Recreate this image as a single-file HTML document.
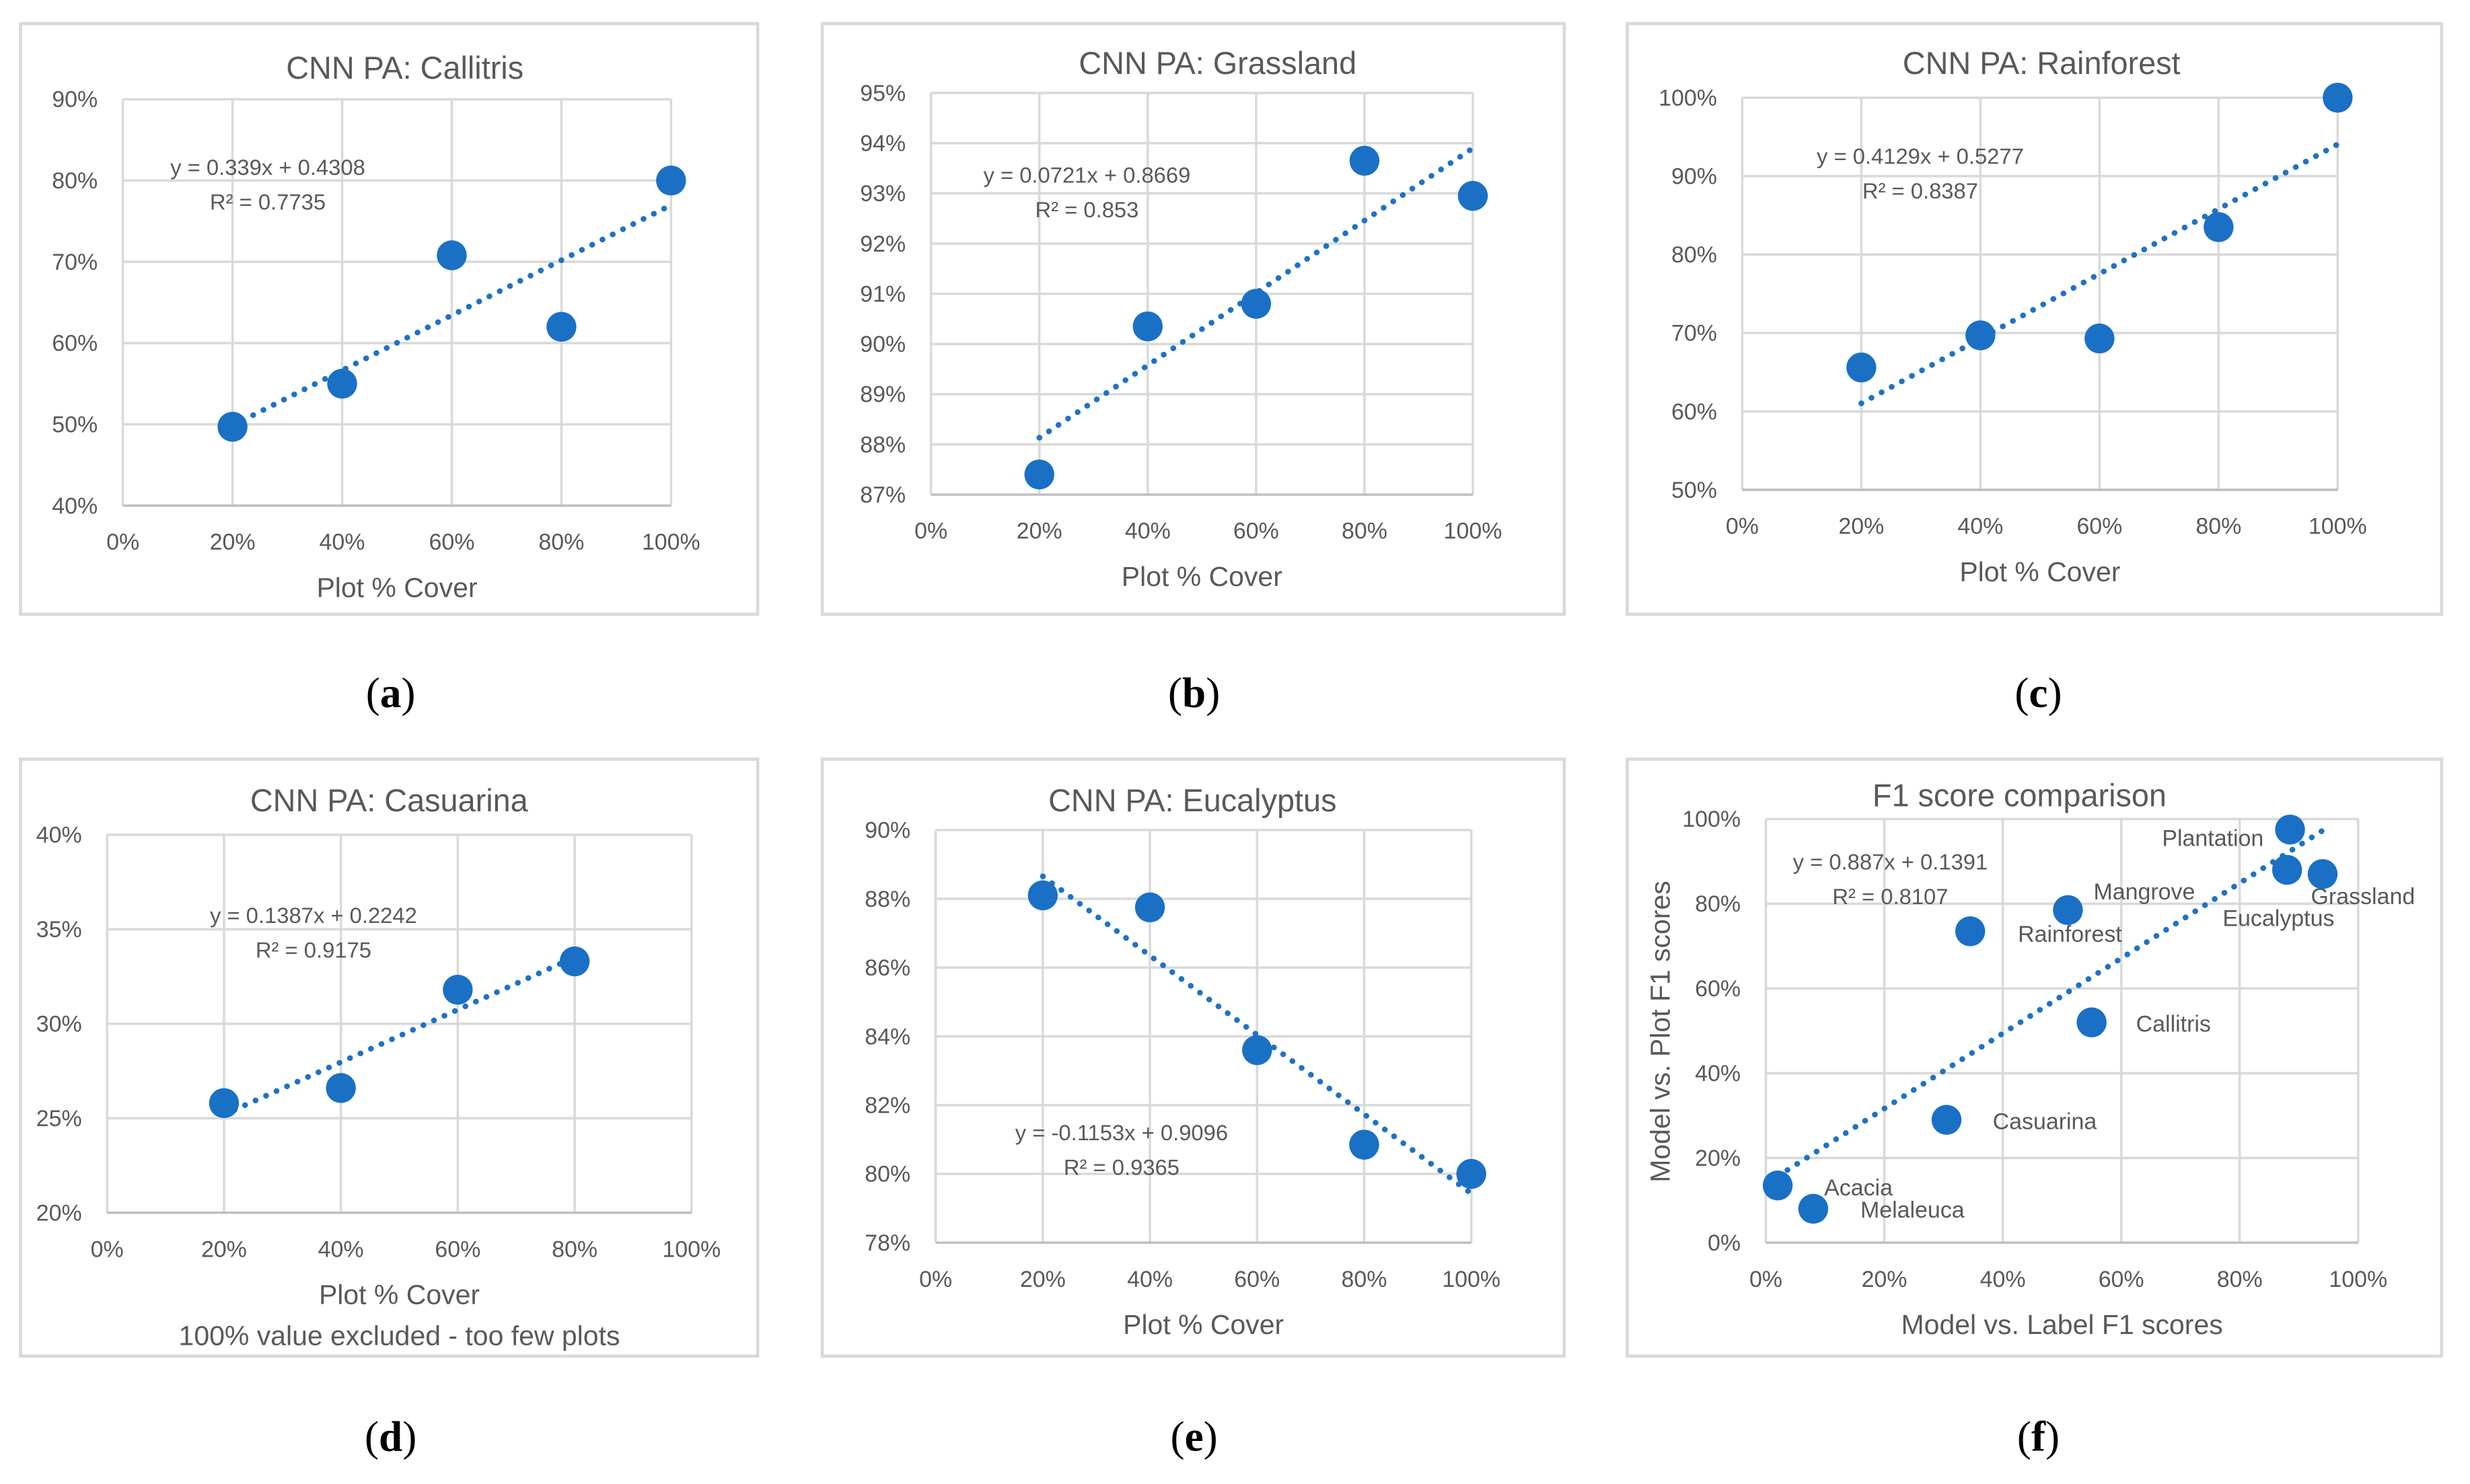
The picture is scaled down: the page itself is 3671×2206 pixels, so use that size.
<!DOCTYPE html>
<html><head><meta charset="utf-8"><style>
html,body{margin:0;padding:0;background:#fff;}
svg{display:block;}
text{font-family:"Liberation Sans",sans-serif;fill:#595959;}
</style></head><body>
<svg id="fig" width="3671" height="2206" viewBox="0 0 1568 942.2" xmlns="http://www.w3.org/2000/svg"></svg>
<script>
// ---- data ----
const xCats = [0.2, 0.4, 0.6, 0.8, 1.0];
const callitrisVals = [0.497, 0.550, 0.708, 0.620, 0.800];
const grasslandVals = [0.874, 0.9035, 0.908, 0.9365, 0.9295];
const rainforestVals = [0.656, 0.697, 0.693, 0.835, 1.000];
const casuarinaX = [0.2, 0.4, 0.6, 0.8];
const casuarinaVals = [0.258, 0.266, 0.318, 0.333];
const eucalyptusVals = [0.881, 0.8775, 0.836, 0.8085, 0.800];
const f1Names = ["Acacia","Melaleuca","Casuarina","Rainforest","Mangrove","Callitris","Eucalyptus","Plantation","Grassland"];
const f1LabelX = [0.02, 0.08, 0.305, 0.345, 0.51, 0.55, 0.88, 0.885, 0.94];
const f1PlotY = [0.135, 0.08, 0.29, 0.735, 0.785, 0.52, 0.88, 0.975, 0.87];
const xTickLabels = ["0%","20%","40%","60%","80%","100%"];
const trendA = [0.339, 0.4308], trendB = [0.0721, 0.8669], trendC = [0.4129, 0.5277];
const trendD = [0.1387, 0.2242], trendE = [-0.1153, 0.9096], trendF = [0.887, 0.1391];

const NS = "http://www.w3.org/2000/svg";
const svg = document.getElementById('fig');
function mk(tag, attrs, parent){const e=document.createElementNS(NS,tag);for(const k in attrs)e.setAttribute(k,attrs[k]);(parent||svg).appendChild(e);return e;}
function txt(s, x, y, size, anchor, parent, name){
  const t = mk('text',{x:x,y:y,'font-size':size,'text-anchor':anchor||'middle'},parent);
  t.textContent = s;
  
  
  return t;
}
function pct(v, dec){return (v*100).toFixed(dec||0)+'%';}

function chart(cfg){
  const g = mk('g',{});
  
  
  const fr = mk('rect',{x:cfg.fx,y:cfg.fy,width:cfg.fw,height:cfg.fh,fill:'#fff',stroke:'#d9d9d9','stroke-width':2},g);
  
  
  const sx = v => cfg.x0 + (v - cfg.xmin)/(cfg.xmax-cfg.xmin)*(cfg.x1-cfg.x0);
  const sy = v => cfg.y0 - (v - cfg.ymin)/(cfg.ymax-cfg.ymin)*(cfg.y0-cfg.y1);
  for(let i=0;i<cfg.yTicks.length;i++){
    const v=cfg.yTicks[i];
    const l=mk('line',{x1:cfg.x0,x2:cfg.x1,y1:sy(v),y2:sy(v),stroke:'#d9d9d9','stroke-width':1.5},g);
    
    
    txt(pct(v), cfg.x0-16, sy(v)+5, 14.5, 'end', g, 'y-tick-label');
  }
  for(let i=0;i<xTickLabels.length;i++){
    const v=i*0.2;
    const l=mk('line',{x1:sx(v),x2:sx(v),y1:cfg.y0,y2:cfg.y1,stroke:'#d9d9d9','stroke-width':1.5},g);
    
    
    txt(xTickLabels[i], sx(v), cfg.y0+28, 14.5, 'middle', g, 'x-tick-label');
  }
  const ax=mk('line',{x1:cfg.x0,x2:cfg.x1,y1:cfg.y0,y2:cfg.y0,stroke:'#bfbfbf','stroke-width':1.5},g);
  
  
  txt(cfg.title, cfg.tx, cfg.ty, 20, 'middle', g, 'chart-title');
  txt(cfg.xTitle, (cfg.x0+cfg.x1)/2, cfg.y0+58, 17.5, 'middle', g, 'x-axis-title');
  if(cfg.note) txt(cfg.note, (cfg.x0+cfg.x1)/2, cfg.y0+84, 17.5, 'middle', g, 'chart-note');
  if(cfg.yTitle){
    const t=txt(cfg.yTitle, 0, 0, 17.5, 'middle', g, 'y-axis-title');
    t.setAttribute('transform','translate('+cfg.ytx+','+cfg.yty+') rotate(-90)');
  }
  const xs=cfg.xs, ys=cfg.ys;
  const xa=Math.min(...xs), xb=Math.max(...xs);
  const p1=[sx(xa),sy(cfg.trend[0]*xa+cfg.trend[1])], p2=[sx(xb),sy(cfg.trend[0]*xb+cfg.trend[1])];
  const tl=mk('line',{x1:p1[0],y1:p1[1],x2:p2[0],y2:p2[1],stroke:'#1f72c4','stroke-width':3.6,'stroke-linecap':'round','stroke-dasharray':'0.1 7.2'},g);
  
  
  for(let i=0;i<xs.length;i++){
    const c=mk('circle',{cx:sx(xs[i]),cy:sy(ys[i]),r:9.5,fill:'#1a70c5'},g);
    
    
    if(cfg.labels){
      const lp=cfg.labelPos[i];
      txt(cfg.labels[i], lp[0], lp[1], 14.5, lp[2], g, 'point-label');
    }
  }
  txt(cfg.eq1, cfg.ex, cfg.ey, 14, 'middle', g, 'trend-equation');
  txt(cfg.eq2, cfg.ex2||cfg.ex, cfg.ey+22, 14, 'middle', g, 'r-squared');
  const pl=mk('text',{x:cfg.px,y:cfg.py,'font-size':27,'text-anchor':'middle'},g);
  pl.setAttribute('style','font-family:"Liberation Serif",serif;fill:#000');
  pl.innerHTML='(<tspan font-weight="bold">'+cfg.panel+'</tspan>)';
  
  
}

function ticks(a,b,s){const r=[];for(let v=a;v<=b+1e-9;v+=s)r.push(+v.toFixed(4));return r;}

chart({name:'chart-callitris',panel:'a',fx:13,fy:15,fw:468,fh:375,x0:78,x1:426,y0:321,y1:63,xmin:0,xmax:1,ymin:0.4,ymax:0.9,yTicks:ticks(0.4,0.9,0.1),
  title:'CNN PA: Callitris',tx:257,ty:50,xTitle:'Plot % Cover',xs:xCats,ys:callitrisVals,trend:trendA,
  eq1:'y = 0.339x + 0.4308',eq2:'R² = 0.7735',ex:170,ey:111,px:248,py:449});
chart({name:'chart-grassland',panel:'b',fx:522,fy:15,fw:471,fh:375,x0:591,x1:935,y0:314,y1:59,xmin:0,xmax:1,ymin:0.87,ymax:0.95,yTicks:ticks(0.87,0.95,0.01),
  title:'CNN PA: Grassland',tx:773,ty:47,xTitle:'Plot % Cover',xs:xCats,ys:grasslandVals,trend:trendB,
  eq1:'y = 0.0721x + 0.8669',eq2:'R² = 0.853',ex:690,ey:116,px:758,py:449});
chart({name:'chart-rainforest',panel:'c',fx:1033,fy:15,fw:517,fh:375,x0:1106,x1:1484,y0:311,y1:62,xmin:0,xmax:1,ymin:0.5,ymax:1.0,yTicks:ticks(0.5,1.0,0.1),
  title:'CNN PA: Rainforest',tx:1296,ty:47,xTitle:'Plot % Cover',xs:xCats,ys:rainforestVals,trend:trendC,
  eq1:'y = 0.4129x + 0.5277',eq2:'R² = 0.8387',ex:1219,ey:104,px:1294,py:449});
chart({name:'chart-casuarina',panel:'d',fx:13,fy:482,fw:468,fh:379,x0:68,x1:439,y0:770,y1:530,xmin:0,xmax:1,ymin:0.2,ymax:0.4,yTicks:ticks(0.2,0.4,0.05),
  title:'CNN PA: Casuarina',tx:247,ty:515,xTitle:'Plot % Cover',note:'100% value excluded - too few plots',xs:casuarinaX,ys:casuarinaVals,trend:trendD,
  eq1:'y = 0.1387x + 0.2242',eq2:'R² = 0.9175',ex:199,ey:586,px:248,py:921});
chart({name:'chart-eucalyptus',panel:'e',fx:522,fy:482,fw:471,fh:379,x0:594,x1:934,y0:789,y1:527,xmin:0,xmax:1,ymin:0.78,ymax:0.9,yTicks:ticks(0.78,0.9,0.02),
  title:'CNN PA: Eucalyptus',tx:757,ty:515,xTitle:'Plot % Cover',xs:xCats,ys:eucalyptusVals,trend:trendE,
  eq1:'y = -0.1153x + 0.9096',eq2:'R² = 0.9365',ex:712,ey:724,px:758,py:921});
chart({name:'chart-f1-comparison',panel:'f',fx:1033,fy:482,fw:517,fh:379,x0:1121,x1:1497,y0:789,y1:520,xmin:0,xmax:1,ymin:0,ymax:1,yTicks:ticks(0,1,0.2),
  title:'F1 score comparison',tx:1282,ty:512,xTitle:'Model vs. Label F1 scores',yTitle:'Model vs. Plot F1 scores',ytx:1060,yty:655,
  xs:f1LabelX,ys:f1PlotY,trend:trendF,labels:f1Names,
  labelPos:[[1158,759,'start'],[1181,773,'start'],[1265,717,'start'],[1281,598,'start'],[1329,571,'start'],[1356,655,'start'],[1411,588,'start'],[1437,537,'end'],[1467,574,'start']],
  eq1:'y = 0.887x + 0.1391',eq2:'R² = 0.8107',ex:1200,ex2:1200,ey:552,px:1294,py:921});
</script>
</body></html>
